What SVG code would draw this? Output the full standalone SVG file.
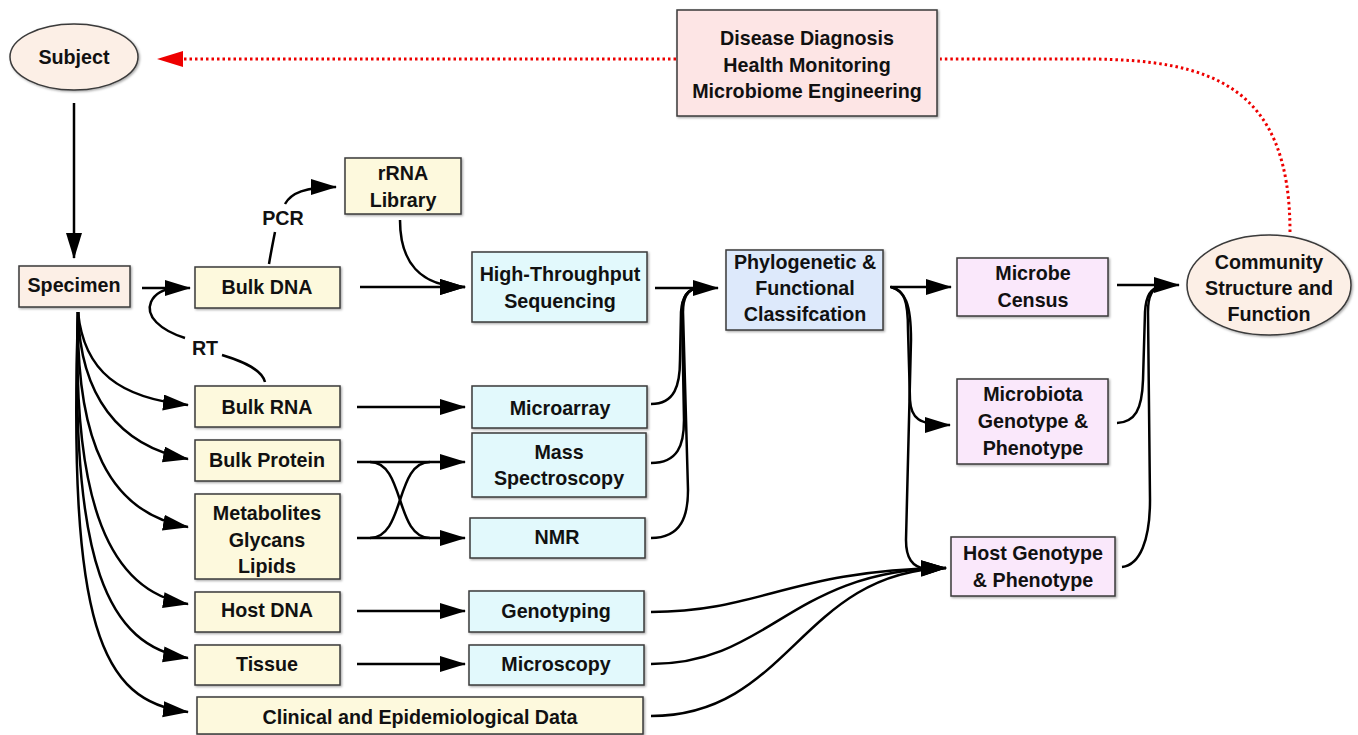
<svg xmlns="http://www.w3.org/2000/svg" width="1358" height="735" viewBox="0 0 1358 735">
<defs>
<style>
.t{font-family:"Liberation Sans",Arial,sans-serif;font-weight:bold;font-size:19.7px;fill:#111;text-anchor:middle}
.box{stroke:#3a3a3a;stroke-width:1.5;filter:url(#sh)}
.y{fill:#fdf9dd}.c{fill:#e2f9fc}.p{fill:#fae8fb}.b{fill:#dde9fb}.s{fill:#fcefe6}.r{fill:#fde5e5}
.ln{fill:none;stroke:#000;stroke-width:2.5}
.ar{marker-end:url(#ah)}
.red{fill:none;stroke:#e00;stroke-width:3;stroke-dasharray:2.5 3}
</style>
<filter id="sh" x="-5%" y="-5%" width="115%" height="120%"><feDropShadow dx="1.2" dy="1.2" stdDeviation="0.8" flood-color="#000" flood-opacity="0.35"/></filter>
<marker id="ah" markerUnits="userSpaceOnUse" markerWidth="28" markerHeight="18" refX="25" refY="8" orient="auto"><path d="M0,0 L26,8 L0,16 Z" fill="#000"/></marker>
</defs>
<rect width="1358" height="735" fill="#fff"/>

<g id="connectors">
<path class="red" d="M676 59 L183 59"/>
<path d="M157 59 L183 51 L183 67 Z" fill="#e00"/>
<path class="red" d="M1290 232 C1290 85 1210 60 1090 59 L940 59"/>
<path class="ln ar" d="M74 103 L74 258"/>
<path class="ln ar" d="M142 288 L190 288"/>
<path class="ln" d="M185 338 C160 330 145 316 151 302 C155 293 163 289 176 288"/>
<path class="ln" d="M222 355 C245 362 262 370 265 382"/>
<path class="ln" d="M269 264 C271 252 273 242 275 232"/>
<path class="ln ar" d="M285 204 C291 193 305 187 336 187"/>
<path class="ln ar" d="M400 220 C400 262 420 287 465 287"/>
<path class="ln ar" d="M360 287 L465 287"/>
<path class="ln ar" d="M78 312 C84 372 120 398 188 405"/>
<path class="ln ar" d="M78 312 C80 395 118 446 188 459"/>
<path class="ln ar" d="M78 312 C76 440 108 513 188 527"/>
<path class="ln ar" d="M78 312 C72 505 110 592 188 604"/>
<path class="ln ar" d="M78 312 C70 565 108 646 188 658"/>
<path class="ln ar" d="M78 312 C68 625 100 702 188 712"/>
<path class="ln ar" d="M357 407 L465 407"/>
<path class="ln ar" d="M357 462 L465 462"/>
<path class="ln ar" d="M357 538 L465 538"/>
<path class="ln" d="M370 462 C405 462 395 538 430 538"/>
<path class="ln" d="M430 462 C395 462 405 538 370 538"/>
<path class="ln ar" d="M357 611 L465 611"/>
<path class="ln ar" d="M357 664 L465 664"/>
<path class="ln ar" d="M655 288 L718 288"/>
<path class="ln" d="M651 404 C675 404 680 385 680 360 L681 312 C682 296 688 289 698 288"/>
<path class="ln" d="M651 463 C678 463 684 445 684 420 L682 312 C682 296 688 289 698 288"/>
<path class="ln" d="M651 538 C682 538 688 515 688 490 L683 312 C683 296 688 289 698 288"/>
<path class="ln ar" d="M890 287 L951 287"/>
<path class="ln ar" d="M891 287 C904 290 908 300 908 330 L910 400 C911 418 918 425 950 425"/>
<path class="ln" d="M891 287 C905 291 911 303 911 340 L906 540 C906 558 912 567 926 569"/>
<path class="ln ar" d="M651 612 C760 612 790 570 946 568"/>
<path class="ln ar" d="M651 664 C770 664 790 570 946 568"/>
<path class="ln ar" d="M651 716 C790 716 800 572 946 568"/>
<path class="ln ar" d="M1117 285 L1179 285"/>
<path class="ln" d="M1117 423 C1135 422 1142 410 1143 380 L1145 312 C1146 296 1150 288 1162 286"/>
<path class="ln" d="M1122 567 C1140 565 1150 540 1150 500 L1148 312 C1148 296 1152 288 1162 286"/>
</g>

<g id="labels">
<text class="t" x="283" y="225">PCR</text>
<text class="t" x="205" y="355">RT</text>
</g>

<g id="subject"><ellipse class="box s" cx="74" cy="57" rx="64" ry="33"/><text class="t" x="74" y="64">Subject</text></g>
<g id="disease"><rect class="box r" x="677" y="10" width="260" height="106"/><text class="t" x="807" y="45">Disease Diagnosis</text><text class="t" x="807" y="72">Health Monitoring</text><text class="t" x="807" y="98">Microbiome Engineering</text></g>
<g id="specimen"><rect class="box s" x="19" y="266" width="111" height="41"/><text class="t" x="74" y="292">Specimen</text></g>
<g id="bulkdna"><rect class="box y" x="195" y="267" width="145" height="41"/><text class="t" x="267" y="294">Bulk DNA</text></g>
<g id="rrna"><rect class="box y" x="345" y="158" width="116" height="56"/><text class="t" x="403" y="180">rRNA</text><text class="t" x="403" y="207">Library</text></g>
<g id="hts"><rect class="box c" x="472" y="252" width="175" height="70"/><text class="t" x="560" y="281">High-Throughput</text><text class="t" x="560" y="308">Sequencing</text></g>
<g id="phylo"><rect class="box b" x="726" y="250" width="157" height="80"/><text class="t" x="805" y="269">Phylogenetic &amp;</text><text class="t" x="805" y="295">Functional</text><text class="t" x="805" y="321">Classifcation</text></g>
<g id="census"><rect class="box p" x="957" y="258" width="151" height="58"/><text class="t" x="1033" y="280">Microbe</text><text class="t" x="1033" y="307">Census</text></g>
<g id="microbiota"><rect class="box p" x="957" y="379" width="151" height="85"/><text class="t" x="1033" y="401">Microbiota</text><text class="t" x="1033" y="428">Genotype &amp;</text><text class="t" x="1033" y="455">Phenotype</text></g>
<g id="hostgp"><rect class="box p" x="951" y="537" width="164" height="59"/><text class="t" x="1033" y="560">Host Genotype</text><text class="t" x="1033" y="587">&amp; Phenotype</text></g>
<g id="community"><ellipse class="box s" cx="1269" cy="285" rx="82" ry="50"/><text class="t" x="1269" y="269">Community</text><text class="t" x="1269" y="295">Structure and</text><text class="t" x="1269" y="321">Function</text></g>
<g id="bulkrna"><rect class="box y" x="195" y="386" width="145" height="41"/><text class="t" x="267" y="414">Bulk RNA</text></g>
<g id="bulkprotein"><rect class="box y" x="195" y="440" width="145" height="41"/><text class="t" x="267" y="467">Bulk Protein</text></g>
<g id="metabolites"><rect class="box y" x="195" y="494" width="145" height="85"/><text class="t" x="267" y="520">Metabolites</text><text class="t" x="267" y="547">Glycans</text><text class="t" x="267" y="573">Lipids</text></g>
<g id="hostdna"><rect class="box y" x="195" y="592" width="145" height="40"/><text class="t" x="267" y="617">Host DNA</text></g>
<g id="tissue"><rect class="box y" x="195" y="645" width="145" height="40"/><text class="t" x="267" y="671">Tissue</text></g>
<g id="clinical"><rect class="box y" x="197" y="697" width="446" height="37"/><text class="t" x="420" y="724">Clinical and Epidemiological Data</text></g>
<g id="microarray"><rect class="box c" x="472" y="386" width="175" height="42"/><text class="t" x="560" y="415">Microarray</text></g>
<g id="massspec"><rect class="box c" x="472" y="433" width="174" height="64"/><text class="t" x="559" y="459">Mass</text><text class="t" x="559" y="485">Spectroscopy</text></g>
<g id="nmr"><rect class="box c" x="470" y="518" width="175" height="40"/><text class="t" x="557" y="544">NMR</text></g>
<g id="genotyping"><rect class="box c" x="469" y="591" width="175" height="41"/><text class="t" x="556" y="618">Genotyping</text></g>
<g id="microscopy"><rect class="box c" x="469" y="645" width="175" height="40"/><text class="t" x="556" y="671">Microscopy</text></g>
</svg>
